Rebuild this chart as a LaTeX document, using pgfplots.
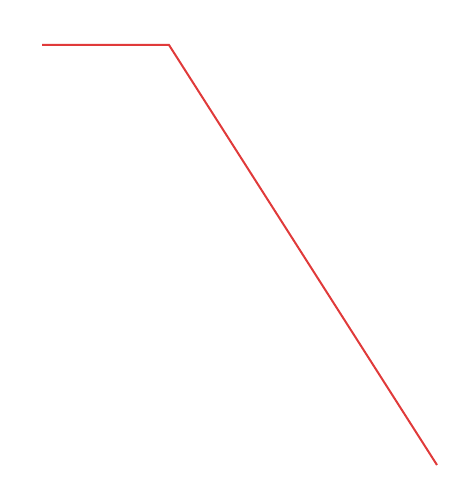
\documentclass[border=0pt]{standalone}
\usepackage{pgfplots}
\pgfplotsset{compat=1.18}
\definecolor{linered}{RGB}{224,58,58}
\begin{document}
\begin{tikzpicture}
\begin{axis}[
  scale only axis, width=455pt, height=493pt,
  xmin=0, xmax=455, ymin=0, ymax=493,
  hide axis, clip=false]
\addplot[draw=none, forget plot] coordinates {(0,0) (455,493)};
\addplot[linered, line width=2pt, line join=miter] coordinates {
  (42,448) (169,448) (437,28)
};
\end{axis}
\end{tikzpicture}
\end{document}
